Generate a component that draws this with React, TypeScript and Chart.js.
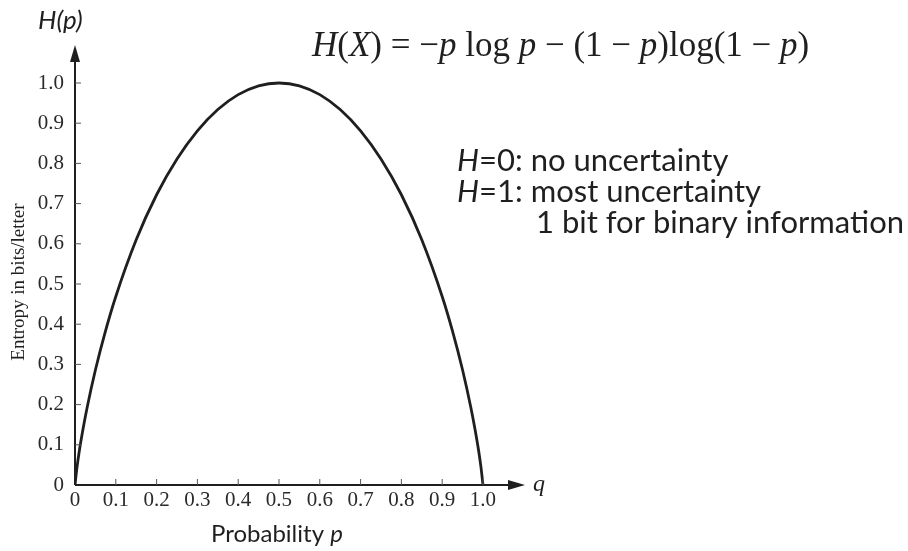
import React, { useEffect, useRef } from "react";
import { Chart, registerables } from "chart.js";

Chart.register(...registerables);

// Binary entropy curve H(p), sampled along p
const probabilities = [
  0, 0.005, 0.01, 0.02, 0.03, 0.05, 0.075, 0.1, 0.15, 0.2, 0.25, 0.3, 0.35, 0.4, 0.45, 0.5,
  0.55, 0.6, 0.65, 0.7, 0.75, 0.8, 0.85, 0.9, 0.925, 0.95, 0.97, 0.98, 0.99, 0.995, 1.0,
];
const entropyBits = [
  0, 0.045, 0.081, 0.141, 0.194, 0.286, 0.384, 0.469, 0.61, 0.722, 0.811, 0.881, 0.934, 0.971, 0.993, 1.0,
  0.993, 0.971, 0.934, 0.881, 0.811, 0.722, 0.61, 0.469, 0.384, 0.286, 0.194, 0.141, 0.081, 0.045, 0,
];
const xTickValues = [0, 0.1, 0.2, 0.3, 0.4, 0.5, 0.6, 0.7, 0.8, 0.9, 1.0];
const yTickValues = [0, 0.1, 0.2, 0.3, 0.4, 0.5, 0.6, 0.7, 0.8, 0.9, 1.0];

const INK = "#1f1f1f";
const SERIF = '"Liberation Serif", "DejaVu Serif", serif';
const SANS = 'Lato, "Open Sans", "Noto Sans", sans-serif';

const fmtTick = (v: number) => (v === 0 ? "0" : v.toFixed(1));

type Piece = { t: string; italic?: boolean };

function drawPieces(ctx: CanvasRenderingContext2D, pieces: Piece[], x: number, y: number, size: number, family: string) {
  let cx = x;
  for (const p of pieces) {
    ctx.font = `${p.italic ? "italic " : ""}${size}px ${family}`;
    ctx.fillText(p.t, cx, y);
    cx += ctx.measureText(p.t).width;
  }
}

const axesAndNotes = {
  id: "axesAndNotes",
  afterDraw(chart: any) {
    const { ctx, chartArea, scales } = chart;
    const xs = scales.x;
    const ys = scales.y;
    const ox = xs.getPixelForValue(0);
    const oy = ys.getPixelForValue(0);
    ctx.save();
    ctx.strokeStyle = INK;
    ctx.fillStyle = INK;
    ctx.lineWidth = 2;

    // axis lines
    ctx.beginPath();
    ctx.moveTo(ox, oy);
    ctx.lineTo(ox, chartArea.top + 12);
    ctx.moveTo(ox, oy);
    ctx.lineTo(chartArea.right - 12, oy);
    ctx.stroke();

    // arrow heads
    ctx.beginPath();
    ctx.moveTo(ox, chartArea.top);
    ctx.lineTo(ox - 5, chartArea.top + 17);
    ctx.lineTo(ox + 5, chartArea.top + 17);
    ctx.closePath();
    ctx.fill();
    ctx.beginPath();
    ctx.moveTo(chartArea.right, oy);
    ctx.lineTo(chartArea.right - 17, oy - 5);
    ctx.lineTo(chartArea.right - 17, oy + 5);
    ctx.closePath();
    ctx.fill();

    // inner tick marks
    ctx.lineWidth = 1;
    ctx.strokeStyle = "#555";
    ctx.beginPath();
    for (const v of xTickValues) {
      if (v === 0) continue;
      const px = xs.getPixelForValue(v);
      ctx.moveTo(px, oy);
      ctx.lineTo(px, oy - 6);
    }
    for (const v of yTickValues) {
      if (v === 0) continue;
      const py = ys.getPixelForValue(v);
      ctx.moveTo(ox, py);
      ctx.lineTo(ox + 6, py);
    }
    ctx.stroke();

    // axis names
    ctx.textBaseline = "alphabetic";
    ctx.textAlign = "left";
    ctx.font = `italic 24px ${SERIF}`;
    ctx.fillText("q", chartArea.right + 8, oy + 6);

    ctx.font = `italic 26px ${SANS}`;
    ctx.fillText("H(p)", 38, 29);

    drawPieces(ctx, [{ t: "Probability " }, { t: "p", italic: true }], 211, 542, 24, SANS);

    ctx.save();
    ctx.translate(24, 282);
    ctx.rotate(-Math.PI / 2);
    ctx.textAlign = "center";
    ctx.font = `19px ${SERIF}`;
    ctx.fillText("Entropy in bits/letter", 0, 0);
    ctx.restore();

    // formula
    drawPieces(
      ctx,
      [
        { t: "H", italic: true },
        { t: "(" },
        { t: "X", italic: true },
        { t: ") = −" },
        { t: "p", italic: true },
        { t: " log " },
        { t: "p", italic: true },
        { t: " − (1 − " },
        { t: "p", italic: true },
        { t: ")log(1 − " },
        { t: "p", italic: true },
        { t: ")" },
      ],
      312,
      56,
      35,
      SERIF
    );

    // notes
    drawPieces(ctx, [{ t: "H", italic: true }, { t: "=0: no uncertainty" }], 457, 171, 31, SANS);
    drawPieces(ctx, [{ t: "H", italic: true }, { t: "=1: most uncertainty" }], 457, 202, 31, SANS);
    drawPieces(ctx, [{ t: "1 bit for binary information" }], 536, 233, 31, SANS);

    ctx.restore();
  },
};

export default function App() {
  const canvasRef = useRef<HTMLCanvasElement>(null);

  useEffect(() => {
    if (!canvasRef.current) return;
    const chart = new Chart(canvasRef.current, {
      type: "line",
      data: {
        datasets: [
          {
            data: probabilities.map((p, i) => ({ x: p, y: entropyBits[i] })),
            borderColor: INK,
            borderWidth: 2.8,
            pointRadius: 0,
            cubicInterpolationMode: "monotone",
            fill: false,
          },
        ],
      },
      options: {
        animation: false,
        responsive: false,
        events: [],
        layout: { padding: { left: 0, top: 45, right: 908 - 525, bottom: 0 } },
        plugins: { legend: { display: false }, tooltip: { enabled: false } },
        scales: {
          x: {
            type: "linear",
            min: 0,
            max: 1.103,
            grid: { display: false, drawTicks: false },
            border: { display: false },
            afterBuildTicks: (scale: any) => {
              scale.ticks = xTickValues.map((v) => ({ value: v }));
            },
            afterFit: (scale: any) => {
              scale.height = 551 - 485;
            },
            ticks: {
              callback: (v: any) => fmtTick(Number(v)),
              font: { family: SERIF, size: 21 },
              color: "#2a2a2a",
              padding: 3,
              maxRotation: 0,
            },
          },
          y: {
            type: "linear",
            min: 0,
            max: 1.0945,
            grid: { display: false, drawTicks: false },
            border: { display: false },
            afterBuildTicks: (scale: any) => {
              scale.ticks = yTickValues.map((v) => ({ value: v }));
            },
            afterFit: (scale: any) => {
              scale.width = 75;
            },
            ticks: {
              callback: (v: any) => fmtTick(Number(v)),
              font: { family: SERIF, size: 21 },
              color: "#2a2a2a",
              padding: 11,
            },
          },
        },
      },
      plugins: [axesAndNotes],
    });
    return () => chart.destroy();
  }, []);

  return (
    <div style={{ position: "absolute", left: 0, top: 0, width: 908, height: 551, background: "#fff" }}>
      <canvas ref={canvasRef} width={908} height={551} />
    </div>
  );
}
